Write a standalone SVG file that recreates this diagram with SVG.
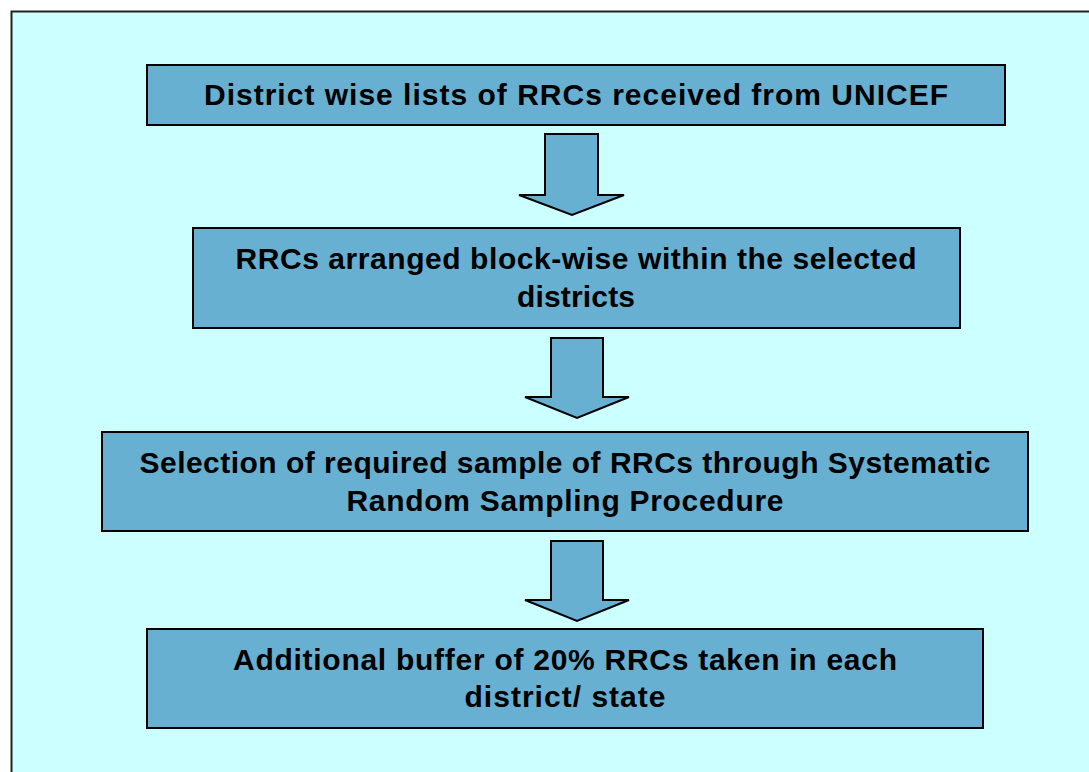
<svg xmlns="http://www.w3.org/2000/svg" width="1089" height="772" viewBox="0 0 1089 772">
<style>
.box{fill:#67B0D1;stroke:#000;stroke-width:2}
.arr{fill:#67B0D1;stroke:#000;stroke-width:2;stroke-linejoin:miter}
.t{font-family:"Liberation Sans",Arial,sans-serif;font-weight:bold;font-size:30px;fill:#000;text-anchor:middle}
</style>
<rect x="0" y="0" width="1089" height="772" fill="#fff"/>
<rect x="11.5" y="11.5" width="1100" height="800" fill="#CCFFFF" stroke="#222" stroke-width="2"/>
<g id="connectors">
<polygon class="arr" points="545,134 598,134 598,195 624,195 572,215 519,195 545,195"/>
<polygon class="arr" points="551,338 603,338 603,397 629,397 577,418 525,397 551,397"/>
<polygon class="arr" points="551,541 603,541 603,600 629,600 577,621 525,600 551,600"/>
</g>
<g id="node1">
<rect class="box" x="147" y="65" width="858" height="60"/>
<text class="t" x="576" y="105" textLength="744" lengthAdjust="spacing">District wise lists of RRCs received from UNICEF</text>
</g>
<g id="node2">
<rect class="box" x="193" y="228" width="767" height="100"/>
<text class="t" x="576" y="269" textLength="681" lengthAdjust="spacing">RRCs arranged block-wise within the selected</text>
<text class="t" x="576" y="307" textLength="118" lengthAdjust="spacing">districts</text>
</g>
<g id="node3">
<rect class="box" x="102" y="432" width="926" height="99"/>
<text class="t" x="565" y="473" textLength="851" lengthAdjust="spacing">Selection of required sample of RRCs through Systematic</text>
<text class="t" x="565" y="511" textLength="437" lengthAdjust="spacing">Random Sampling Procedure</text>
</g>
<g id="node4">
<rect class="box" x="147" y="629" width="836" height="99"/>
<text class="t" x="565" y="670" textLength="664" lengthAdjust="spacing">Additional buffer of 20% RRCs taken in each</text>
<text class="t" x="565" y="707" textLength="201" lengthAdjust="spacing">district/ state</text>
</g>
</svg>
